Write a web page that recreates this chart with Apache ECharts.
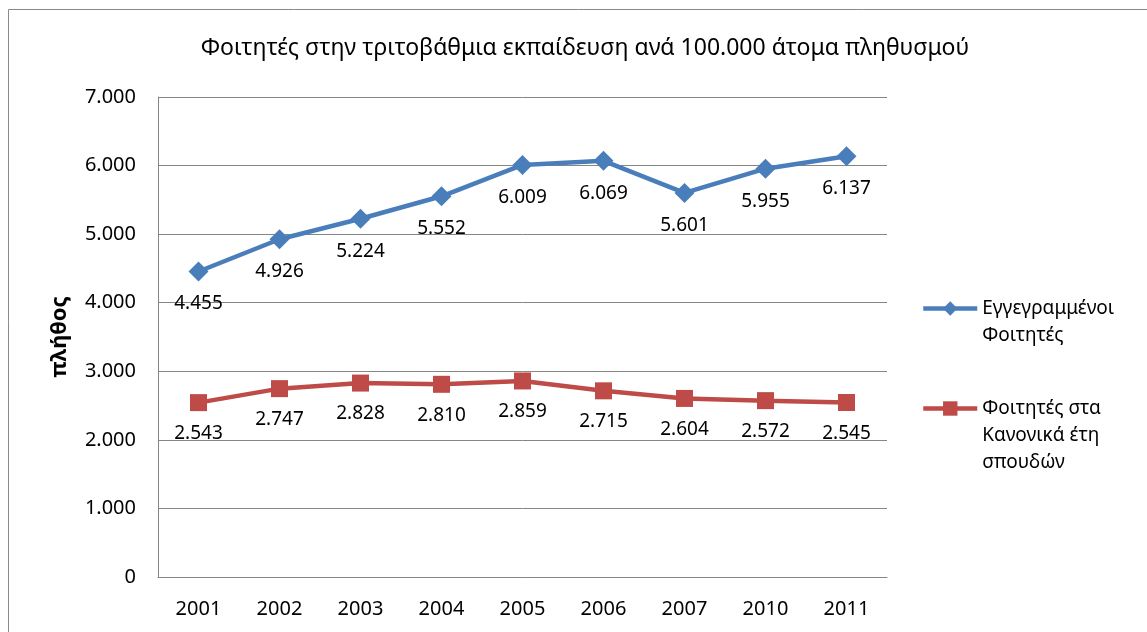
<!DOCTYPE html>
<html>
<head>
<meta charset="utf-8">
<script src="https://cdn.jsdelivr.net/npm/echarts@6/dist/echarts.min.js"></script>
<style>
  html, body { margin: 0; padding: 0; background: #fff; }
  #chart { width: 1147px; height: 632px; }
</style>
</head>
<body>
<div id="chart"></div>
<script>
// --- δεδομένα ---
const years = ['2001', '2002', '2003', '2004', '2005', '2006', '2007', '2010', '2011'];
const registered = [4455, 4926, 5224, 5552, 6009, 6069, 5601, 5955, 6137];
const regularYears = [2543, 2747, 2828, 2810, 2859, 2715, 2604, 2572, 2545];
const seriesNames = ['Εγγεγραμμένοι\nΦοιτητές', 'Φοιτητές στα\nΚανονικά έτη\nσπουδών'];

const FONT = '"Noto Sans", "Open Sans", sans-serif';

// 4455 -> "4.455"
const fmt = (v) => String(v).replace(/\B(?=(\d{3})+(?!\d))/g, '.');

// κενές γραμμές από πάνω ώστε το εικονίδιο να πέφτει στην πρώτη γραμμή
const padTop = (name) => ' \n'.repeat(name.split('\n').length - 1) + name;

const legendText = {
  fontFamily: FONT,
  fontSize: 19,
  lineHeight: 27,
  color: '#000'
};

const chart = echarts.init(document.getElementById('chart'));

chart.setOption({
  animation: false,
  textStyle: { fontFamily: FONT, color: '#000' },
  title: {
    text: 'Φοιτητές στην τριτοβάθμια εκπαίδευση ανά 100.000 άτομα πληθυσμού',
    left: 580,
    textAlign: 'center',
    top: 32,
    textStyle: { fontFamily: FONT, fontSize: 23, fontWeight: 'normal', color: '#000' }
  },
  graphic: [{
    type: 'rect',
    shape: { x: 8.5, y: 9.5, width: 1200, height: 700 },
    style: { fill: 'none', stroke: '#8a8a8a', lineWidth: 1 },
    silent: true
  }],
  legend: [
    {
      data: [seriesNames[0]],
      left: 921,
      top: 268,
      padding: 0,
      itemWidth: 54,
      itemHeight: 18,
      lineStyle: { width: 4.5 },
      formatter: padTop,
      textStyle: legendText
    },
    {
      data: [seriesNames[1]],
      left: 921,
      top: 341,
      padding: 0,
      itemWidth: 54,
      itemHeight: 18,
      lineStyle: { width: 4.5 },
      formatter: padTop,
      textStyle: legendText
    }
  ],
  grid: { left: 158, top: 97, right: 260, bottom: 55 },
  xAxis: {
    type: 'category',
    data: years,
    boundaryGap: true,
    axisLine: { lineStyle: { color: '#868686', width: 1 } },
    axisTick: { show: false },
    axisLabel: { fontFamily: FONT, fontSize: 20, color: '#000', margin: 22 }
  },
  yAxis: {
    type: 'value',
    min: 0,
    max: 7000,
    interval: 1000,
    name: 'πλήθος',
    nameLocation: 'middle',
    nameRotate: 90,
    nameGap: 87,
    nameTextStyle: { fontFamily: FONT, fontSize: 22, fontWeight: 'bold', color: '#000' },
    axisLine: { show: true, lineStyle: { color: '#868686', width: 1 } },
    axisTick: { show: false },
    axisLabel: { fontFamily: FONT, fontSize: 20, color: '#000', margin: 22, formatter: fmt },
    splitLine: { lineStyle: { color: '#868686', width: 1 } }
  },
  series: [
    {
      name: seriesNames[0],
      type: 'line',
      data: registered,
      symbol: 'diamond',
      symbolSize: 20,
      color: '#4a7ebb',
      lineStyle: { width: 4.5, color: '#4a7ebb' },
      itemStyle: { color: '#4a7ebb' },
      label: {
        show: true,
        position: 'bottom',
        distance: 13,
        fontFamily: FONT,
        fontSize: 19,
        color: '#000',
        formatter: (p) => fmt(p.value)
      }
    },
    {
      name: seriesNames[1],
      type: 'line',
      data: regularYears,
      symbol: 'rect',
      symbolSize: 17,
      color: '#be4b48',
      lineStyle: { width: 4.5, color: '#be4b48' },
      itemStyle: { color: '#be4b48' },
      label: {
        show: true,
        position: 'bottom',
        distance: 13,
        fontFamily: FONT,
        fontSize: 19,
        color: '#000',
        formatter: (p) => fmt(p.value)
      }
    }
  ]
});
</script>
</body>
</html>
